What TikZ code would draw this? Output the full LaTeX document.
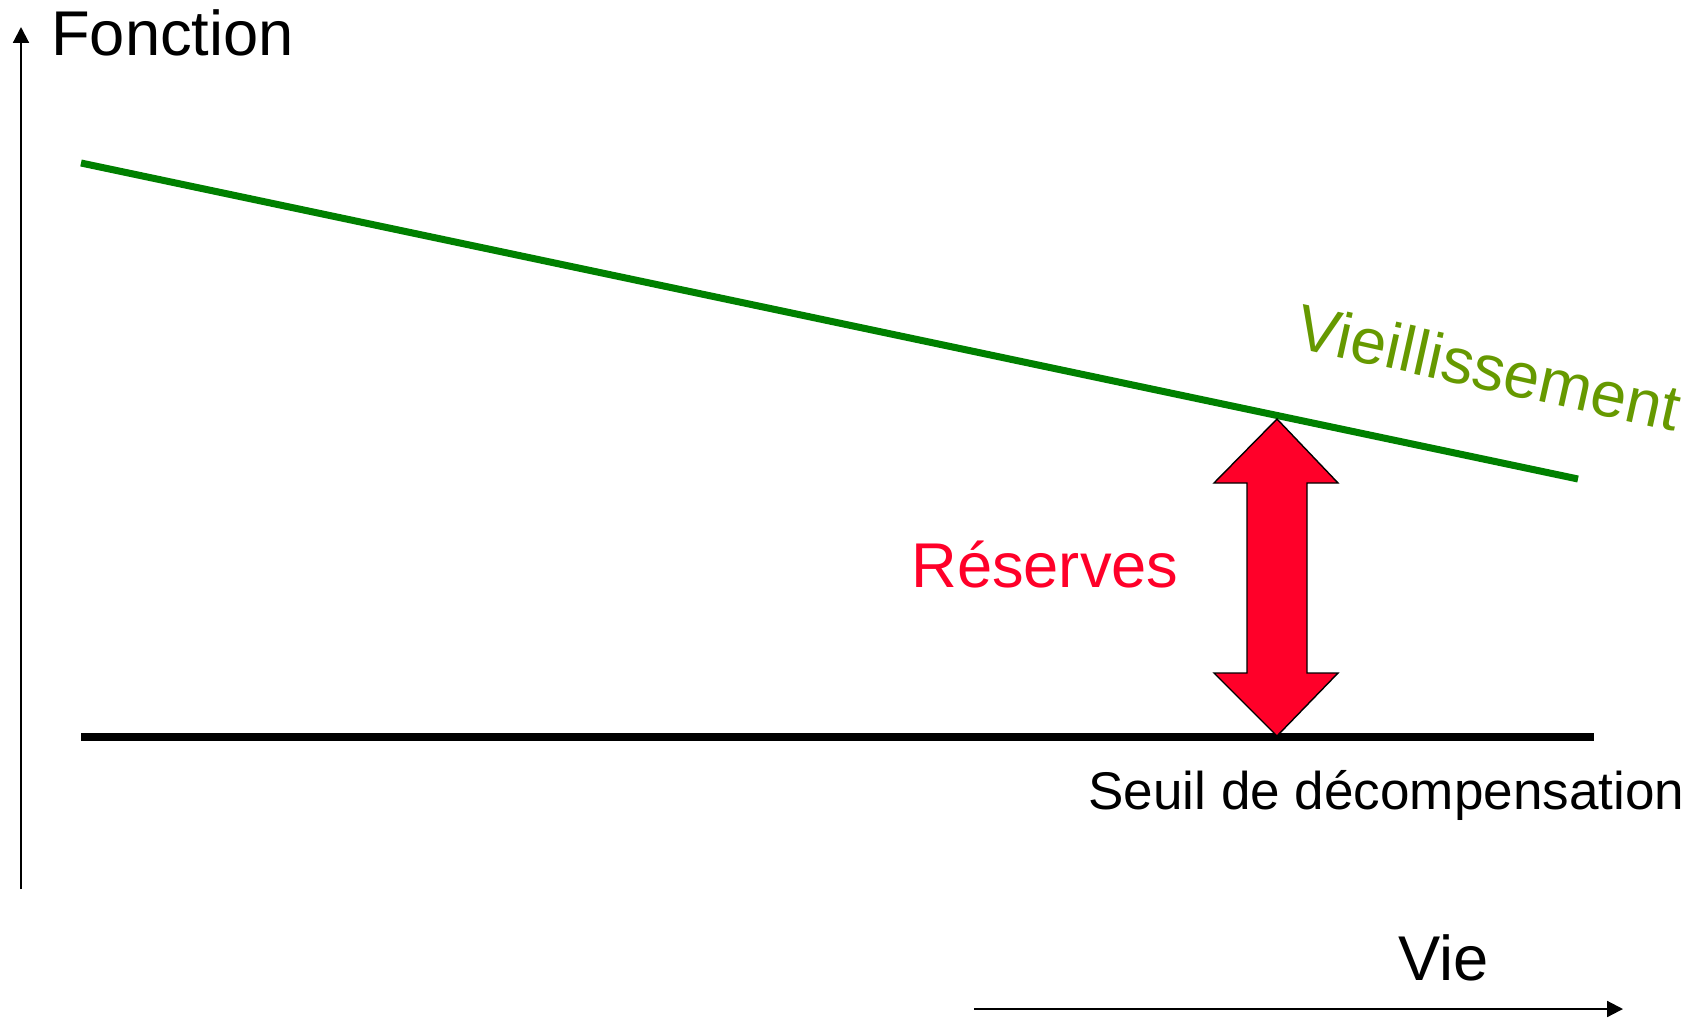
\documentclass[tikz,border=0pt]{standalone}
\usepackage{fontspec}
\setmainfont{Liberation Sans}
\usetikzlibrary{calc,arrows.meta,positioning}
\definecolor{aging}{RGB}{0,128,0}
\definecolor{agingtext}{RGB}{102,153,0}
\definecolor{reserve}{RGB}{255,0,41}

\begin{document}
\begin{tikzpicture}[x=0.02cm,y=-0.02cm,>={Triangle[length=9pt,width=9pt]}]
      \tikzstyle{label}=[inner sep=0pt,anchor=base west,font=\fontsize{36pt}{40pt}\selectfont]
      \tikzstyle{axis}=[line width=1.2pt,->]
      \useasboundingbox (0,0) rectangle (1700,1018);

      \coordinate (origin) at (21,889);
      \coordinate (ytop) at (21,27);
      \coordinate (xstart) at (974,1009);
      \coordinate (xend) at (1623,1009);
      \coordinate (age1) at (81,163);
      \coordinate (age2) at (1578,479);
      \coordinate (seuil1) at (81,737);
      \coordinate (seuil2) at (1594,737);
      \coordinate (top) at (1277,419);
      \coordinate (bot) at (1277,736);

      \node[label] (fonction) at (51,55) {Fonction};
      \node[label] (vie) at (1398,980) {Vie};
      \node[label,text=reserve] (reserves) at (911,587) {Réserves};
      \node[label,font=\fontsize{30.2pt}{36pt}\selectfont] (seuil) at (1088,809) {Seuil de décompensation};
      \node[label,text=agingtext,rotate=-12.5,font=\fontsize{36.5pt}{40pt}\selectfont] (vieil) at (1293,347) {Vieillissement};

      \draw[axis] (origin)--(ytop);
      \draw[axis] (xstart)--(xend);
      \draw[aging,line width=4pt] (age1)--(age2);
      \draw[black,line width=4.5pt] (seuil1)--(seuil2);

      \filldraw[fill=reserve,draw=black,line width=0.8pt] (top)
        --($(top)+(61,64)$)--($(top)+(30,64)$)--($(bot)+(30,-63)$)--($(bot)+(61,-63)$)
        --(bot)
        --($(bot)+(-63,-63)$)--($(bot)+(-30,-63)$)--($(top)+(-30,64)$)--($(top)+(-63,64)$)--cycle;
\end{tikzpicture}
\end{document}
